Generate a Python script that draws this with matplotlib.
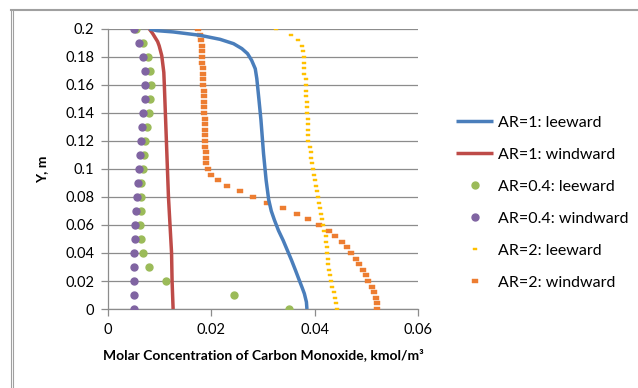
import numpy as np
import matplotlib
matplotlib.use("Agg")
import matplotlib.pyplot as plt
from matplotlib.lines import Line2D

plt.rcParams['font.family'] = ['Lato', 'DejaVu Sans']

# AR=1 curves (smooth lines)
y_ar1_lee = [0.2, 0.1988, 0.1979, 0.1955, 0.1926, 0.1895, 0.186, 0.1824, 0.1776, 0.1716, 0.1645,
             0.150, 0.135, 0.111, 0.092, 0.078, 0.070, 0.0636, 0.056, 0.049, 0.042, 0.035,
             0.0275, 0.0207, 0.015, 0.011, 0.005, 0.0]
x_ar1_lee = [0.0080, 0.0095, 0.0126, 0.0178, 0.0217, 0.0243, 0.0259, 0.0270, 0.0278, 0.0285, 0.0288,
             0.0292, 0.0296, 0.0301, 0.0306, 0.0311, 0.0316, 0.0322, 0.0330, 0.0339, 0.0347, 0.0355,
             0.0363, 0.0370, 0.0376, 0.0380, 0.0384, 0.0385]

y_ar1_wind = [0.2, 0.197, 0.194, 0.191, 0.188, 0.181, 0.169, 0.16, 0.15, 0.14, 0.12, 0.10,
              0.08, 0.06, 0.04, 0.02, 0.0]
x_ar1_wind = [0.0080, 0.0086, 0.0091, 0.0096, 0.0099, 0.0104, 0.0108, 0.0109, 0.0110, 0.0111,
              0.0113, 0.0115, 0.0117, 0.0120, 0.0123, 0.0124, 0.0126]

# AR=0.4 points
y_ar04 = [0.20, 0.19, 0.18, 0.17, 0.16, 0.15, 0.14, 0.13, 0.12, 0.11, 0.10,
          0.09, 0.08, 0.07, 0.06, 0.05, 0.04, 0.03, 0.02, 0.01, 0.0]
x_ar04_lee = [0.0054, 0.0068, 0.0078, 0.0081, 0.0083, 0.0081, 0.0080, 0.0076, 0.0072, 0.0070, 0.0068,
              0.0064, 0.0064, 0.0063, 0.0062, 0.0064, 0.0067, 0.0079, 0.0112, 0.0244, 0.0351]
x_ar04_wind = [0.0050, 0.0060, 0.0067, 0.0071, 0.0071, 0.0071, 0.0067, 0.0065, 0.0063, 0.0062, 0.0060,
               0.0058, 0.0057, 0.0054, 0.0053, 0.0053, 0.0050, 0.0050, 0.0050, 0.0050, 0.0050]

# AR=2 points
y_ar2 = [0.200, 0.196, 0.192, 0.188, 0.184, 0.180, 0.176, 0.172, 0.168, 0.164, 0.160,
         0.156, 0.152, 0.148, 0.144, 0.140, 0.136, 0.132, 0.128, 0.124, 0.120,
         0.116, 0.112, 0.108, 0.104, 0.100, 0.096, 0.092, 0.088, 0.084, 0.080,
         0.076, 0.072, 0.068, 0.064, 0.060, 0.056, 0.052, 0.048, 0.044, 0.040,
         0.036, 0.032, 0.028, 0.024, 0.020, 0.016, 0.012, 0.008, 0.004, 0.000]
x_ar2_lee = [0.0325, 0.0354, 0.0367, 0.0375, 0.0377, 0.0379, 0.0380, 0.0380, 0.0380, 0.0383, 0.0383,
             0.0383, 0.0383, 0.0385, 0.0385, 0.0385, 0.0387, 0.0387, 0.0387, 0.0388, 0.0388,
             0.0390, 0.0392, 0.0392, 0.0394, 0.0396, 0.0398, 0.0400, 0.0402, 0.0404, 0.0406,
             0.0409, 0.0411, 0.0412, 0.0414, 0.0417, 0.0419, 0.0421, 0.0422, 0.0424, 0.0424,
             0.0425, 0.0426, 0.0428, 0.0429, 0.0431, 0.0434, 0.0437, 0.0439, 0.0441, 0.0443]
x_ar2_wind = [0.0175, 0.0178, 0.0180, 0.0181, 0.0182, 0.0182, 0.0182, 0.0183, 0.0183, 0.0183, 0.0184,
              0.0185, 0.0185, 0.0185, 0.0186, 0.0186, 0.0187, 0.0188, 0.0188, 0.0188, 0.0188,
              0.0188, 0.0189, 0.0189, 0.0189, 0.0193, 0.0199, 0.0212, 0.0231, 0.0255, 0.0281,
              0.0308, 0.0339, 0.0365, 0.0388, 0.0408, 0.0427, 0.0440, 0.0453, 0.0462, 0.0471,
              0.0479, 0.0486, 0.0494, 0.0499, 0.0504, 0.0510, 0.0514, 0.0518, 0.0520, 0.0521]

labels = ["AR=1: leeward", "AR=1: windward", "AR=0.4: leeward", "AR=0.4: windward",
          "AR=2: leeward", "AR=2: windward"]

fig = plt.figure(figsize=(6.38, 3.88), dpi=100)
ax = fig.add_axes([0.1693, 0.2036, 0.4859, 0.7217])

dash_marker = [(-1, -0.6), (1, -0.6), (1, 0.6), (-1, 0.6), (-1, -0.6)]

ax.plot(x_ar2_wind, y_ar2, ls='none', marker=dash_marker, ms=3.8, mew=0.3, color='#ED7D31',
        mec='#ED7D31', label=labels[5], zorder=3)
ax.plot(x_ar2_lee, y_ar2, ls='none', marker=dash_marker, ms=3.1, mew=0.3, color='#FFC000',
        mec='#FFC000', label=labels[4], zorder=3)
ax.plot(x_ar04_lee, y_ar04, ls='none', marker='o', ms=5, color='#9BBB59', mec='#9BBB59',
        label=labels[2], zorder=4)
ax.plot(x_ar04_wind, y_ar04, ls='none', marker='o', ms=5, color='#8064A2', mec='#8064A2',
        label=labels[3], zorder=5)
ax.plot(x_ar1_wind, y_ar1_wind, color='#BE4B48', lw=2.5, label=labels[1], zorder=4,
        solid_capstyle='butt', solid_joinstyle='round')
ax.plot(x_ar1_lee, y_ar1_lee, color='#4A7EBB', lw=2.5, label=labels[0], zorder=4,
        solid_capstyle='butt', solid_joinstyle='round')

ax.set_xlim(0, 0.06)
ax.set_ylim(0, 0.2)
ax.set_xticks([0, 0.02, 0.04, 0.06])
ax.set_xticklabels(["0", "0.02", "0.04", "0.06"])
ax.set_yticks([0, 0.02, 0.04, 0.06, 0.08, 0.1, 0.12, 0.14, 0.16, 0.18, 0.2])
ax.set_yticklabels(["0", "0.02", "0.04", "0.06", "0.08", "0.1", "0.12", "0.14", "0.16", "0.18", "0.2"])
ax.grid(axis='y', color='#8C8C8C', lw=0.9)
ax.set_axisbelow(True)
for s in ['top', 'right']:
    ax.spines[s].set_visible(False)
for s in ['left', 'bottom']:
    ax.spines[s].set_color('#8C8C8C')
    ax.spines[s].set_linewidth(0.9)
ax.tick_params(axis='both', colors='#8C8C8C', labelcolor='black', labelsize=10.5, length=5, width=0.9)
ax.tick_params(axis='y', pad=5)
ax.tick_params(axis='x', pad=5)

ax.set_xlabel("Molar Concentration of Carbon Monoxide, kmol/m³", fontsize=10, fontweight='bold', labelpad=8)
ax.set_ylabel("Y, m", fontsize=10, fontweight='bold', labelpad=12)

h, l = ax.get_legend_handles_labels()
hd = dict(zip(l, h))
fig.legend([hd[x] for x in labels], labels, loc='upper left', bbox_to_anchor=(0.705, 0.719),
           frameon=False, fontsize=11.5, handlelength=2.3, handletextpad=0.3,
           labelspacing=1.12, numpoints=1, borderaxespad=0)

# chart frame
fig.add_artist(Line2D([10.5 / 638, 1], [1 - 9.5 / 388, 1 - 9.5 / 388], color='#A0A0A0', lw=1.5))
fig.add_artist(Line2D([10.5 / 638, 10.5 / 638], [0, 1 - 9.5 / 388], color='#A0A0A0', lw=0.8))
fig.add_artist(Line2D([12.5 / 638, 12.5 / 638], [0, 1 - 9.5 / 388], color='#A0A0A0', lw=0.8))

fig.savefig("out.png", dpi=100)
